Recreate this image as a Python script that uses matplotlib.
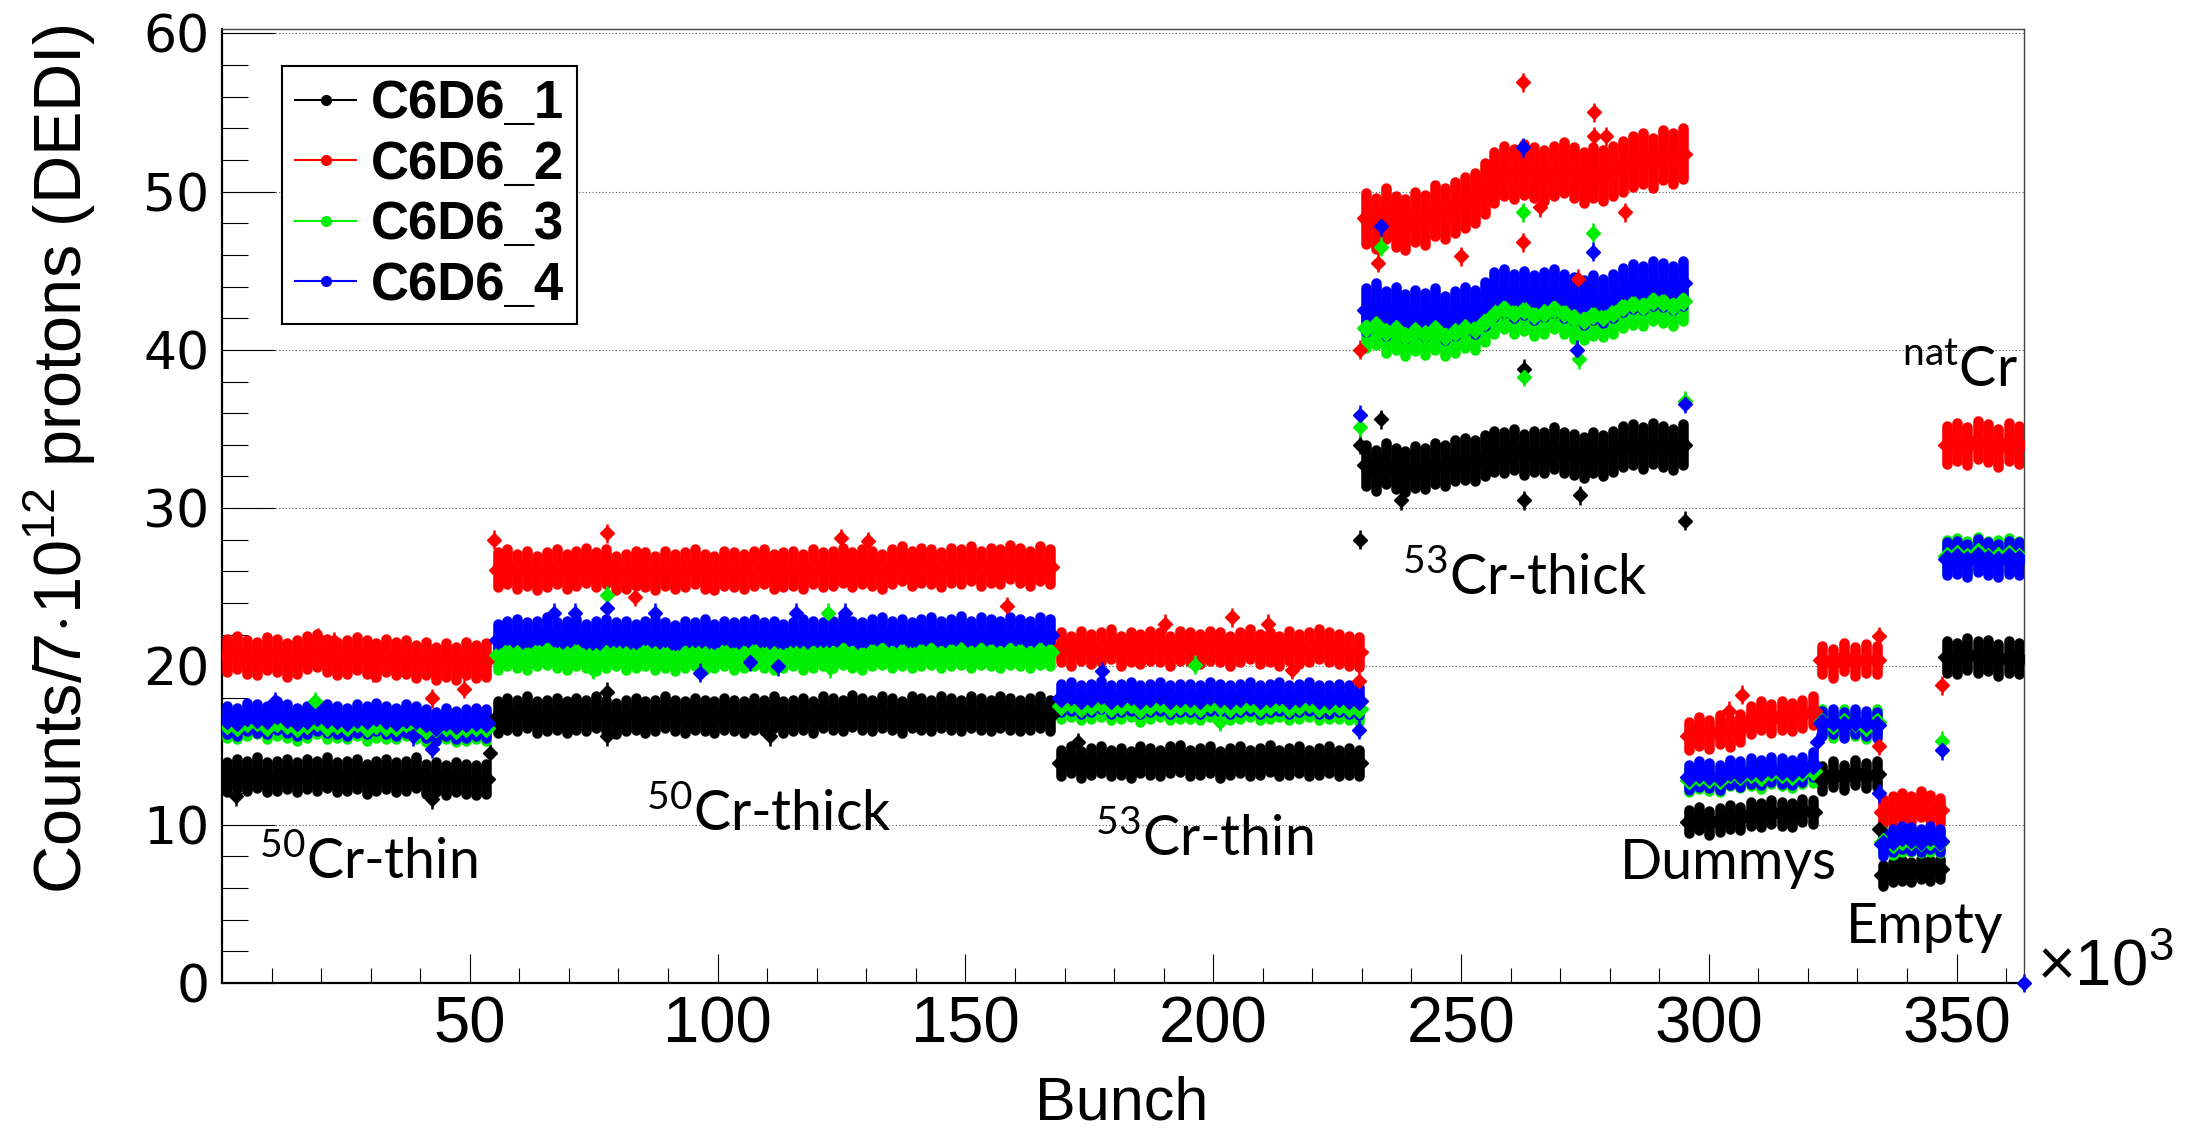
import numpy as np
import matplotlib.pyplot as plt
from matplotlib.lines import Line2D

plt.rcParams['mathtext.fontset'] = 'custom'
plt.rcParams['mathtext.rm'] = 'Lato'
plt.rcParams['mathtext.sf'] = 'Liberation Sans'

# bunch ranges (x10^3) of the eight samples
seg_lo = [0.0, 54.6, 168.3, 229.8, 294.9, 321.8, 334.2, 347.0]
seg_hi = [54.3, 168.0, 230.4, 295.7, 322.0, 335.0, 347.6, 363.6]

# C6D6_1 (black)
det1 = [
    [13.0, 13.2, 13.1, 13.3, 13.0, 13.1, 13.2, 13.0, 13.2, 13.1, 13.3, 13.0, 13.1, 13.2,
     12.9, 13.1, 13.2, 13.0, 13.1, 13.3, 12.9, 13.0, 12.8, 13.0, 12.9, 12.8, 12.9],
    [16.8, 17.0, 16.9, 17.1, 16.8, 16.9, 17.0, 16.8, 17.0, 16.9, 17.1, 16.9, 16.7, 16.9,
     17.0, 16.8, 16.9, 17.1, 16.9, 16.8, 17.0, 16.9, 16.8, 17.0, 16.9, 16.8, 17.0, 16.9,
     17.1, 16.8, 16.9, 17.0, 16.8, 17.1, 17.0, 16.9, 17.2, 17.0, 16.9, 17.1, 17.0, 16.8,
     17.1, 17.0, 16.9, 17.1, 17.0, 16.9, 17.1, 17.0, 16.9, 17.1, 17.0, 16.9, 17.0, 17.1, 16.9],
    [13.9, 14.1, 13.8, 14.0, 14.1, 13.9, 14.0, 13.8, 14.1, 14.0, 13.9, 14.1, 14.2, 13.9,
     14.0, 14.1, 13.8, 14.0, 14.1, 13.9, 14.0, 14.2, 13.9, 14.0, 14.1, 13.9, 14.0, 14.1,
     13.9, 14.0, 13.9],
    [32.7, 32.4, 32.8, 32.5, 32.3, 32.6, 32.5, 32.8, 32.7, 33.0, 33.1, 33.0, 33.3, 33.6,
     33.5, 33.7, 33.4, 33.6, 33.5, 33.8, 33.5, 33.4, 33.2, 33.5, 33.3, 33.6, 33.9, 34.0,
     33.8, 34.1, 33.9, 33.7, 34.0],
    [10.2, 10.4, 10.1, 10.3, 10.5, 10.4, 10.7, 10.6, 10.8, 10.7, 10.6, 10.9, 10.8],
    [12.9, 13.2, 13.0, 13.3, 13.1, 13.2],
    [6.8, 7.0, 7.1, 7.0, 7.2, 7.1, 7.2],
    [20.6, 20.5, 20.8, 20.6, 20.7, 20.4, 20.6, 20.5],
]
# C6D6_2 (red)
det2 = [
    [20.7, 20.9, 20.6, 20.5, 20.8, 20.7, 20.4, 20.6, 20.9, 21.0, 20.7, 20.5, 20.6, 20.8,
     20.6, 20.4, 20.7, 20.5, 20.6, 20.3, 20.5, 20.2, 20.4, 20.2, 20.5, 20.3, 20.4],
    [26.1, 26.3, 26.0, 26.2, 25.9, 26.1, 26.3, 26.0, 26.2, 26.4, 26.1, 26.3, 25.9, 26.0,
     26.2, 26.1, 25.9, 26.2, 26.0, 26.1, 26.3, 26.0, 25.9, 26.2, 26.1, 26.0, 26.2, 26.3,
     26.0, 26.1, 26.2, 26.0, 26.3, 26.1, 26.2, 26.4, 26.1, 26.3, 26.2, 26.0, 26.3, 26.5,
     26.2, 26.4, 26.3, 26.1, 26.4, 26.3, 26.5, 26.2, 26.4, 26.3, 26.6, 26.4, 26.2, 26.5, 26.3],
    [21.2, 21.0, 21.3, 21.1, 21.2, 21.4, 21.0, 21.2, 21.1, 21.3, 21.2, 21.0, 21.3, 21.2,
     21.1, 21.3, 21.2, 21.0, 21.2, 21.4, 21.1, 21.2, 21.0, 21.3, 21.1, 21.2, 21.4, 21.2,
     21.1, 21.0, 20.9],
    [48.3, 48.0, 48.6, 48.1, 47.9, 48.4, 48.2, 48.8, 48.6, 49.0, 49.3, 49.6, 50.2, 50.9,
     51.3, 51.1, 51.4, 51.2, 51.0, 51.3, 51.5, 51.2, 50.9, 51.2, 51.0, 51.3, 51.6, 51.9,
     52.1, 51.8, 52.3, 52.1, 52.4],
    [15.6, 15.9, 15.7, 16.0, 15.8, 16.1, 16.6, 16.9, 16.7, 16.9, 16.8, 17.0, 17.2],
    [20.4, 20.2, 20.6, 20.3, 20.5, 20.4],
    [10.8, 11.0, 11.2, 11.0, 11.3, 11.1, 10.9],
    [34.0, 34.2, 33.9, 34.3, 34.1, 33.8, 34.2, 34.0],
]
# C6D6_3 (green)
det3 = [
    [16.3, 16.2, 16.4, 16.5, 16.2, 16.4, 16.3, 16.1, 16.3, 16.5, 16.2, 16.3, 16.2, 16.4,
     16.1, 16.3, 16.2, 16.2, 16.4, 16.2, 16.0, 16.1, 16.2, 16.0, 16.1, 16.2, 16.1],
    [20.7, 20.9, 20.8, 20.7, 20.9, 21.0, 20.8, 20.7, 20.9, 20.8, 20.6, 20.8, 20.9, 20.7,
     20.8, 20.9, 20.7, 20.8, 20.6, 20.8, 20.9, 20.7, 20.8, 20.9, 20.7, 20.8, 20.9, 20.8,
     20.7, 20.8, 20.9, 20.7, 20.8, 20.9, 20.8, 21.0, 20.8, 20.7, 20.9, 21.0, 20.8, 20.9,
     20.8, 20.9, 21.0, 20.8, 20.9, 21.0, 20.8, 21.0, 20.9, 20.8, 21.0, 20.9, 20.8, 21.0, 20.9],
    [17.5, 17.6, 17.4, 17.5, 17.6, 17.4, 17.5, 17.6, 17.3, 17.5, 17.6, 17.4, 17.5, 17.5,
     17.4, 17.6, 17.5, 17.4, 17.5, 17.6, 17.4, 17.5, 17.6, 17.4, 17.5, 17.6, 17.4, 17.5,
     17.5, 17.4, 17.3],
    [41.4, 41.6, 41.1, 41.3, 40.9, 41.2, 41.0, 41.3, 40.9, 41.1, 41.4, 41.3, 41.8, 42.3,
     42.6, 42.3, 42.5, 42.2, 42.3, 42.6, 42.3, 42.0, 41.9, 42.2, 42.1, 42.3, 42.7, 42.9,
     42.8, 43.1, 43.0, 42.8, 43.1],
    [12.8, 13.0, 12.9, 12.8, 13.2, 13.1, 13.2, 13.0, 13.3, 13.2, 13.1, 13.3, 13.4],
    [16.5, 16.3, 16.5, 16.4, 16.2, 16.5],
    [8.9, 8.8, 9.0, 9.0, 8.9, 9.0, 8.9],
    [27.0, 27.1, 26.9, 27.2, 26.9, 27.0, 27.1, 26.9],
]
# C6D6_4 (blue)
det4 = [
    [16.6, 16.5, 16.8, 16.7, 16.6, 16.9, 16.7, 16.5, 16.6, 16.8, 16.7, 16.6, 16.5, 16.7,
     16.6, 16.8, 16.6, 16.5, 16.7, 16.6, 16.4, 16.2, 16.5, 16.3, 16.4, 16.5, 16.4],
    [21.7, 21.9, 22.0, 21.8, 21.9, 22.1, 21.8, 21.9, 22.0, 21.7, 21.9, 22.0, 21.8, 21.9,
     21.7, 21.9, 22.0, 21.8, 21.6, 21.9, 21.8, 22.0, 21.7, 21.9, 21.8, 21.9, 22.0, 21.8,
     21.9, 21.7, 21.8, 22.0, 21.9, 21.8, 21.9, 22.1, 21.9, 21.8, 22.0, 22.1, 21.9, 22.0,
     21.8, 22.0, 22.1, 21.9, 22.0, 22.2, 21.9, 22.1, 22.0, 21.9, 22.1, 22.0, 21.9, 22.1, 22.0],
    [18.0, 18.1, 17.9, 18.0, 18.2, 17.9, 18.0, 18.1, 17.9, 18.0, 18.1, 17.9, 18.0, 18.0,
     17.9, 18.1, 18.0, 17.9, 18.0, 18.1, 17.9, 18.0, 18.1, 17.9, 18.0, 18.1, 17.9, 17.9,
     18.0, 17.9, 17.8],
    [42.5, 42.8, 42.3, 42.6, 42.1, 42.4, 42.2, 42.5, 42.0, 42.3, 42.6, 42.4, 42.9, 43.5,
     43.7, 43.4, 43.6, 43.3, 43.5, 43.7, 43.4, 43.2, 43.0, 43.3, 43.1, 43.4, 43.8, 44.0,
     43.9, 44.2, 44.1, 43.9, 44.2],
    [13.0, 13.2, 13.1, 13.0, 13.3, 13.2, 13.4, 13.3, 13.5, 13.4, 13.3, 13.5, 13.8],
    [16.4, 16.5, 16.3, 16.5, 16.4, 16.3],
    [8.8, 9.0, 9.2, 9.1, 9.0, 9.2, 9.0],
    [26.8, 26.9, 26.7, 27.0, 26.8, 26.7, 26.9, 26.8],
]

# scatter (half width) of each band, per sample
spread1 = [0.95, 1.0, 0.85, 1.3, 0.75, 0.8, 0.65, 1.0]
spread2 = [1.05, 1.1, 0.95, 1.6, 0.9, 0.9, 0.8, 1.2]
spread3 = [0.8, 0.9, 0.8, 1.3, 0.75, 0.8, 0.7, 1.0]
spread4 = [0.9, 1.0, 0.9, 1.4, 0.8, 0.8, 0.75, 1.05]

# isolated bunches off the bands
out1_x = [2.8, 42.4, 54.0, 77.6, 77.6, 110.5, 172.8, 229.7, 229.7, 233.8, 237.9, 262.7, 262.7, 274.0, 295.2, 334.3]
out1_y = [11.8, 11.6, 14.5, 18.4, 15.6, 15.6, 15.2, 28.0, 34.0, 35.6, 30.5, 30.5, 38.8, 30.8, 29.2, 9.7]
out2_x = [19.4, 22.6, 30.4, 42.4, 48.8, 54.8, 77.6, 83.3, 125.0, 130.4, 158.3, 190.2, 203.7, 211.0, 215.8,
          229.5, 229.7, 233.2, 250.0, 262.5, 262.5, 266.0, 273.7, 276.8, 276.8, 279.2, 283.0, 304.1, 306.8,
          334.3, 334.3, 347.0]
out2_y = [21.8, 21.6, 19.6, 18.0, 18.6, 28.0, 28.4, 24.4, 28.1, 27.9, 23.8, 22.7, 23.1, 22.7, 19.8,
          19.1, 40.0, 45.5, 45.9, 56.9, 46.8, 49.0, 44.5, 55.0, 53.5, 53.5, 48.7, 17.2, 18.2,
          21.9, 15.0, 18.8]
out3_x = [18.7, 74.9, 77.6, 122.3, 122.6, 196.3, 201.3, 229.7, 233.8, 262.5, 262.7, 273.8, 276.7, 295.2, 347.0]
out3_y = [17.8, 19.8, 24.5, 23.4, 19.9, 20.1, 16.5, 35.1, 46.5, 48.7, 38.3, 39.4, 47.4, 36.8, 15.3]
out4_x = [10.6, 38.5, 42.4, 66.9, 71.2, 77.6, 87.3, 96.4, 106.5, 112.2, 115.9, 125.7, 177.5, 229.5, 229.7,
          233.8, 262.5, 273.5, 276.7, 295.2, 321.8, 334.3, 347.0, 363.6]
out4_y = [17.8, 15.6, 14.8, 23.4, 23.4, 23.7, 23.4, 19.6, 20.3, 20.0, 23.4, 23.4, 19.7, 16.0, 35.9,
          47.8, 52.8, 40.0, 46.2, 36.6, 15.2, 12.0, 14.7, 0.0]
out_err = 0.6

labels = ['C6D6_1', 'C6D6_2', 'C6D6_3', 'C6D6_4']
colors = ['#000000', '#ff0000', '#00ee00', '#0000ff']

samples = [r'$^{50}$Cr-thin', r'$^{50}$Cr-thick', r'$^{53}$Cr-thin', r'$^{53}$Cr-thick',
           'Dummys', 'Empty', r'$^{\rm nat}$Cr']
sample_x = [7.5, 85.5, 176.2, 238.1, 282.0, 327.6, 339.0]
sample_y = [6.63, 9.67, 8.1, 24.6, 6.57, 2.53, 37.65]


def draw(ax, segs, spreads, ox, oy, color):
    xs, ys, es = [], [], []
    for lo, hi, vals, sp in zip(seg_lo, seg_hi, segs, spreads):
        n = len(vals)
        half = (hi - lo) / (2 * n)
        xs.append(np.linspace(lo + half, hi - half, n))
        ys.append(vals)
        es.append(np.full(n, sp))
    x = np.concatenate(xs)
    y = np.concatenate(ys)
    e = np.concatenate(es)
    eb = ax.errorbar(x, y, yerr=e, fmt='D', ms=9, color=color, mec=color,
                     elinewidth=7.6, capsize=0, zorder=3)
    eb[2][0].set_capstyle('round')
    eb2 = ax.errorbar(ox, oy, yerr=out_err, fmt='D', ms=7, color=color, mec=color,
                      elinewidth=1.8, capsize=0, zorder=3, clip_on=False)
    for art in eb2.lines[2]:
        art.set_clip_on(False)


fig = plt.figure(figsize=(21.9, 11.28), dpi=100)
ax = fig.add_axes([222 / 2190, 145 / 1128, 1802 / 2190, 954 / 1128])

draw(ax, det1, spread1, out1_x, out1_y, colors[0])
draw(ax, det2, spread2, out2_x, out2_y, colors[1])
draw(ax, det3, spread3, out3_x, out3_y, colors[2])
draw(ax, det4, spread4, out4_x, out4_y, colors[3])

ax.set_xlim(0, 363.6)
ax.set_ylim(0, 60.27)
ax.set_axisbelow(True)
ax.yaxis.grid(True, linestyle=(0, (1, 2)), color='#555555', linewidth=0.8)

ax.set_xticks([50, 100, 150, 200, 250, 300, 350])
ax.set_xticks(np.arange(10, 361, 10), minor=True)
ax.set_yticks(np.arange(0, 61, 10))
ax.set_yticks(np.arange(2, 60, 2), minor=True)
ax.tick_params(axis='both', which='both', direction='in', width=0.8, top=False, right=False)
ax.tick_params(axis='y', which='major', length=38, pad=9)
ax.tick_params(axis='y', which='minor', length=19)
ax.tick_params(axis='x', which='major', length=21, pad=9)
ax.tick_params(axis='x', which='minor', length=11)
for lab in ax.get_yticklabels():
    lab.set_fontfamily('DejaVu Sans')
    lab.set_fontsize(37.5)
for lab in ax.get_xticklabels():
    lab.set_fontfamily('Liberation Sans')
    lab.set_fontsize(47)

for side in ['left', 'bottom']:
    ax.spines[side].set_linewidth(1.6)
for side in ['top', 'right']:
    ax.spines[side].set_linewidth(1.0)
    ax.spines[side].set_color('#444444')

fig.text(60 / 2190, 1 - 25 / 1128, r'Counts/7$\cdot$10$^{\mathsf{12}}$ protons (DEDI)', rotation=90,
         ha='center', va='top', fontsize=48, family='Liberation Sans')
fig.text(1122 / 2190, 1 - 1119 / 1128, 'Bunch', ha='center', va='baseline',
         fontsize=44, family='Liberation Sans')
fig.text(2037 / 2190, 1 - 985 / 1128, r'$\times$10$^{\mathsf{3}}$', ha='left', va='baseline',
         fontsize=47, family='Liberation Sans')

for s, sx, sy in zip(samples, sample_x, sample_y):
    ax.text(sx, sy, s, ha='left', va='baseline', fontsize=40, family='Lato', zorder=5)

handles = [Line2D([0], [0], color=c, lw=1.5, marker='o', ms=7) for c in colors]
leg = ax.legend(handles, labels, loc='upper left', bbox_to_anchor=(282 / 2190, 1 - 66 / 1128),
                bbox_transform=fig.transFigure, borderaxespad=0, fancybox=False, framealpha=1,
                edgecolor='black', handlelength=1.15, handletextpad=0.28, borderpad=0.25,
                labelspacing=0.2, prop={'family': 'Liberation Sans', 'weight': 'bold', 'size': 38})
leg.get_frame().set_linewidth(1.5)

fig.savefig('out.png', dpi=100)
